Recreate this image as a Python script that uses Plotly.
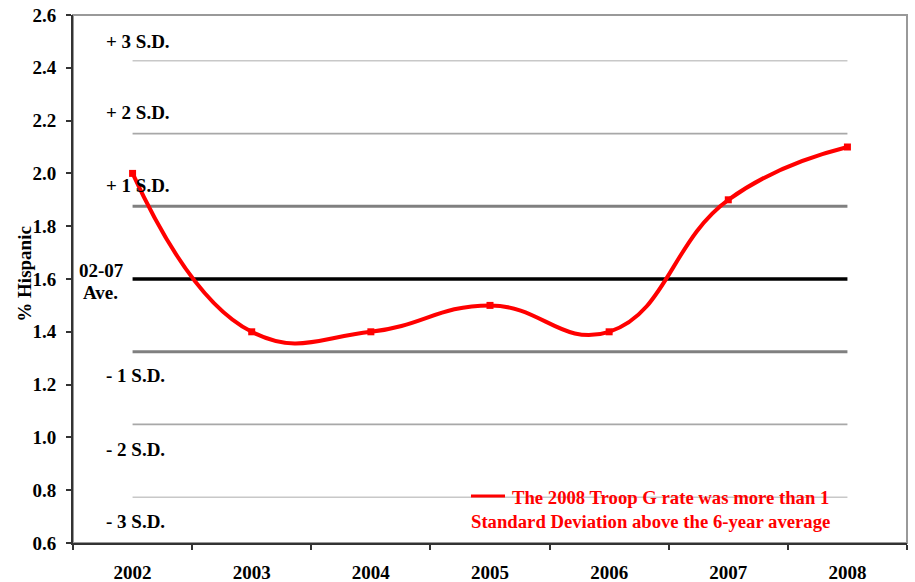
import plotly.graph_objects as go

years = ["2002", "2003", "2004", "2005", "2006", "2007", "2008"]
hispanic_pct = [2.0, 1.4, 1.4, 1.5, 1.4, 1.9, 2.1]

# reference levels (02-07 average and standard deviation bands)
ref_names = ["-3 SD", "-2 SD", "-1 SD", "Ave", "+1 SD", "+2 SD", "+3 SD"]
ref_values = [0.773, 1.049, 1.324, 1.6, 1.876, 2.151, 2.427]
ref_colors = ["#c8c8c8", "#a8a8a8", "#808080", "#000000", "#808080", "#a8a8a8", "#c8c8c8"]
ref_widths = [1.5, 1.8, 3, 3.5, 3, 1.8, 1.5]

band_labels = ["+ 3 S.D.", "+ 2 S.D.", "+ 1 S.D.", "- 1 S.D.", "- 2 S.D.", "- 3 S.D."]
band_label_y = [2.50, 2.23, 1.955, 1.233, 0.956, 0.683]

legend_lines = ["The 2008 Troop G rate was more than 1",
                "Standard Deviation above the 6-year average"]

FONT = "Liberation Serif, Times New Roman, serif"
FS = 19

fig = go.Figure()

for name, v, c, w in zip(ref_names, ref_values, ref_colors, ref_widths):
    fig.add_trace(go.Scatter(
        x=years, y=[v] * len(years), mode="lines", name=name,
        line=dict(color=c, width=w), showlegend=False, hoverinfo="skip"))

fig.add_trace(go.Scatter(
    x=years, y=hispanic_pct, mode="lines+markers", name=legend_lines[0],
    line=dict(color="#ff0000", width=4, shape="spline", smoothing=1.3),
    marker=dict(symbol="square", size=7, color="#ff0000"),
    showlegend=False))

bold = dict(family=FONT, size=FS, color="#000000", weight="bold")

for t, yv in zip(band_labels, band_label_y):
    fig.add_annotation(x=0.0372, xref="paper", y=yv, yref="y", text=t,
                       showarrow=False, xanchor="left", yanchor="middle", font=bold)

fig.add_annotation(x=0.0336, xref="paper", y=1.634, yref="y", text="02-07",
                   showarrow=False, xanchor="center", yanchor="middle", font=bold)
fig.add_annotation(x=0.0325, xref="paper", y=1.547, yref="y", text="Ave.",
                   showarrow=False, xanchor="center", yanchor="middle", font=bold)

# y-axis title
fig.add_annotation(x=-0.0576, xref="paper", y=0.51, yref="paper", text="% Hispanic",
                   textangle=-90, showarrow=False, xanchor="center", yanchor="middle",
                   font=bold)

red = dict(family=FONT, size=18.7, color="#ff0000", weight="bold")
fig.add_annotation(x=0.5245, xref="paper", y=0.0853, yref="paper", text=legend_lines[0],
                   showarrow=False, xanchor="left", yanchor="middle", font=red)
fig.add_annotation(x=0.4745, xref="paper", y=0.0398, yref="paper", text=legend_lines[1],
                   showarrow=False, xanchor="left", yanchor="middle", font=red)
fig.add_shape(type="line", xref="paper", yref="paper", x0=0.4772, x1=0.518,
              y0=0.089, y1=0.089, line=dict(color="#ff0000", width=3))

# gray frame on top/right
fig.add_shape(type="rect", xref="paper", yref="paper", x0=0, x1=1, y0=0, y1=1,
              line=dict(color="#999999", width=2), layer="below")

fig.update_layout(
    width=915, height=582,
    margin=dict(l=73, r=8, t=15, b=39, autoexpand=False),
    paper_bgcolor="white", plot_bgcolor="white",
    font=dict(family=FONT, size=FS, color="#000000"),
    showlegend=False,
)

fig.update_xaxes(
    type="category", range=[-0.5, 6.5], automargin=False,
    showgrid=False, zeroline=False,
    showline=True, linecolor="#333333", linewidth=2,
    ticks="outside", ticklen=5, tickcolor="#333333", tickwidth=1.5,
    tickson="boundaries", ticklabelstandoff=11,
    tickfont=dict(family=FONT, size=FS, color="#000000", weight="bold"),
)
fig.update_yaxes(
    range=[0.6, 2.6], dtick=0.2, tickformat=".1f", automargin=False,
    showgrid=False, zeroline=False,
    showline=True, linecolor="#333333", linewidth=2,
    ticks="outside", ticklen=5, tickcolor="#333333", tickwidth=1.5,
    ticklabelstandoff=6,
    tickfont=dict(family=FONT, size=FS, color="#000000", weight="bold"),
)

fig.write_html("out.html")
